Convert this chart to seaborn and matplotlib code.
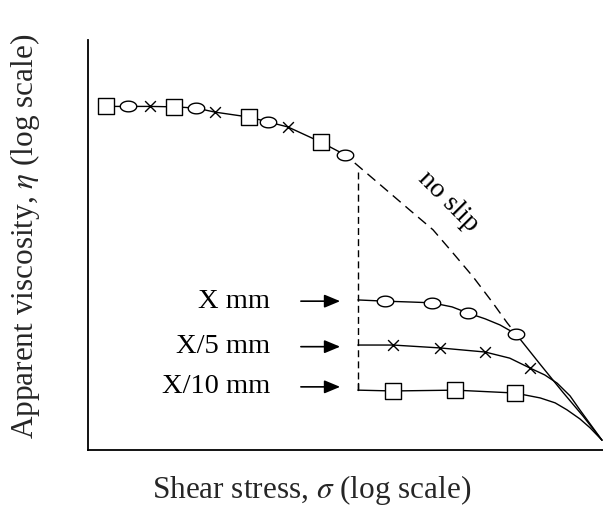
import numpy as np
import matplotlib
matplotlib.use("Agg")
import matplotlib.pyplot as plt
from matplotlib.path import Path
import seaborn as sns

# ---- data (schematic units: x 0-100 shear stress, y 0-100 viscosity) ----
top_x = [3.5, 7.8, 12.0, 16.7, 21.0, 24.7, 31.3, 35.0, 38.8, 45.2, 49.9]
top_y = [83.8, 83.8, 83.8, 83.7, 83.4, 82.4, 81.2, 80.0, 78.8, 75.1, 72.0]

top_sq_x = [3.5, 16.7, 31.3, 45.2]
top_sq_y = [83.8, 83.7, 81.2, 75.1]
top_ci_x = [7.8, 21.0, 35.0, 49.9]
top_ci_y = [83.8, 83.4, 80.0, 72.0]
top_cr_x = [12.0, 24.7, 38.8]
top_cr_y = [83.8, 82.4, 78.8]

noslip_x = [51.8, 57.3, 62.5, 67.0, 70.9, 74.8, 78.6, 81.4, 83.3]
noslip_y = [70.0, 64.1, 58.5, 53.7, 48.0, 42.2, 35.9, 31.0, 28.0]

xmm_x = [52.4, 57.7, 62.5, 66.8, 70.7, 73.8, 77.1, 80.0, 83.1, 87.8, 92.2, 96.1, 99.8]
xmm_y = [36.6, 36.3, 36.1, 35.9, 34.9, 33.4, 32.0, 30.5, 28.3, 20.9, 14.1, 8.3, 2.4]
xmm_mx = [57.7, 66.8, 73.8, 83.1]
xmm_my = [36.3, 35.9, 33.4, 28.3]

x5_x = [52.4, 59.2, 68.3, 77.1, 81.9, 85.8, 88.7, 91.1, 93.6, 95.5, 99.8]
x5_y = [25.6, 25.6, 24.9, 23.9, 22.4, 20.0, 18.3, 16.3, 13.2, 9.8, 2.4]
x5_mx = [59.2, 68.3, 77.1, 85.8]
x5_my = [25.6, 24.9, 23.9, 20.0]

x10_x = [52.4, 59.2, 71.3, 82.9, 87.8, 90.7, 93.0, 95.5, 97.5, 99.8]
x10_y = [14.6, 14.4, 14.6, 13.9, 12.7, 11.5, 9.8, 7.6, 5.4, 2.4]
x10_mx = [59.2, 71.3, 82.9]
x10_my = [14.4, 14.6, 13.9]

vline_x = [52.4, 52.4]
vline_y = [67.8, 14.6]

labels = ["X mm", "X/5 mm", "X/10 mm"]
label_y = [36.3, 25.2, 15.4]
arrow_x0, arrow_x1, label_x = 40.8, 49.5, 35.3

# ---- style ----
sns.set_theme(style="white")
plt.rcParams['font.family'] = ['Liberation Serif', 'DejaVu Serif']
plt.rcParams['mathtext.fontset'] = 'stix'

fig = plt.figure(figsize=(6.03, 5.09), dpi=100)
ax = fig.add_axes([88/603, 59/509, 515/603, 410/509])
ax.set_xlim(0, 100)
ax.set_ylim(0, 100)

t = np.linspace(0, 2*np.pi, 60)
ellipse = Path(np.c_[np.cos(t), 0.65*np.sin(t)])

lk = dict(color="black", lw=1.0, sort=False, estimator=None, legend=False, clip_on=False)
sns.lineplot(x=top_x, y=top_y, ax=ax, **lk)
sns.lineplot(x=noslip_x, y=noslip_y, ax=ax, linestyle=(0, (7.5, 4.5)), **lk)
sns.lineplot(x=xmm_x, y=xmm_y, ax=ax, **lk)
sns.lineplot(x=x5_x, y=x5_y, ax=ax, **lk)
sns.lineplot(x=x10_x, y=x10_y, ax=ax, **lk)
sns.lineplot(x=vline_x, y=vline_y, ax=ax, linestyle=(0, (5, 3)), **lk)
ax.plot([52.4, 52.4], [14.6, 16.4], color="black", lw=1.0)

sq = dict(marker="s", s=135, facecolor="white", edgecolor="black", linewidth=1.0, zorder=5, legend=False, clip_on=False)
ci = dict(marker=ellipse, s=140, facecolor="white", edgecolor="black", linewidth=1.0, zorder=5, legend=False, clip_on=False)
cr = dict(marker="x", s=60, color="black", linewidth=1.0, zorder=5, legend=False, clip_on=False)

sns.scatterplot(x=top_sq_x, y=top_sq_y, ax=ax, **sq)
sns.scatterplot(x=top_ci_x, y=top_ci_y, ax=ax, **ci)
sns.scatterplot(x=top_cr_x, y=top_cr_y, ax=ax, **cr)
sns.scatterplot(x=xmm_mx, y=xmm_my, ax=ax, **ci)
sns.scatterplot(x=x5_mx, y=x5_my, ax=ax, **cr)
sns.scatterplot(x=x10_mx, y=x10_my, ax=ax, **sq)

for lab, yy in zip(labels, label_y):
    ax.annotate("", xy=(arrow_x1, yy), xytext=(arrow_x0, yy),
                arrowprops=dict(arrowstyle="-|>,head_length=0.6,head_width=0.25",
                                color="black", lw=1.2, mutation_scale=16))
    ax.text(label_x, yy, lab, ha="right", va="center", fontsize=20.5, color="black")

ax.text(70.0, 60.5, "no slip", rotation=-45, ha="center", va="center", fontsize=20,
        rotation_mode="anchor", color="black")

ax.set_xticks([])
ax.set_yticks([])
for s in ["top", "right"]:
    ax.spines[s].set_visible(False)
for s in ["left", "bottom"]:
    ax.spines[s].set_color("black")
    ax.spines[s].set_linewidth(1.3)

fig.text(312/603, 1 - 490/509, r"Shear stress, $\sigma$ (log scale)", ha="center", va="center", fontsize=22.5)
fig.text(25/603, 1 - 236/509, r"Apparent viscosity, $\eta$ (log scale)", ha="center", va="center",
         rotation=90, fontsize=22.5)

fig.savefig("out.png", dpi=100)
